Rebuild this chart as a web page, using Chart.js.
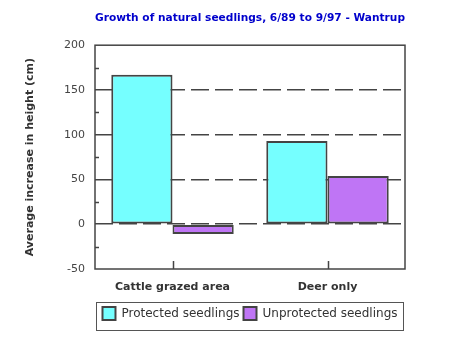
<!DOCTYPE html>
<html lang="en">
<head>
  <meta charset="UTF-8" />
  <title>Growth of natural seedlings</title>
  <script src="https://cdn.jsdelivr.net/npm/chart.js"></script>
  <style>
    body { margin: 0; background: #fff; }
    #wrap { width: 450px; height: 350px; }
  </style>
</head>
<body>
<div id="wrap"><canvas id="seedChart" width="450" height="350"></canvas></div>
<script>
  // data
  const areas = ['Cattle grazed area', 'Deer only'];
  const protectedVals = [167, 93];
  const unprotectedVals = [-11, 54];
  const seriesNames = ['Protected seedlings', 'Unprotected seedlings'];
  const yTicksShown = [-50, 0, 50, 100, 150, 200];

  const edge = '#444444';
  const txt = '#333333';
  const fontFam = '"DejaVu Sans", Verdana, sans-serif';

  // frame round the plot, inward tick marks, box round the legend
  const framePlugin = {
    id: 'frame',
    afterDatasetsDraw(chart) {
      const { ctx, chartArea: a, scales: { x, y } } = chart;
      ctx.save();
      ctx.strokeStyle = edge;
      ctx.lineWidth = 1.5;
      ctx.strokeRect(a.left, a.top, a.right - a.left, a.bottom - a.top);
      ctx.beginPath();
      // minor ticks on the value axis
      y.ticks.forEach(t => {
        if (t.value % 50 !== 0) {
          const py = Math.round(y.getPixelForValue(t.value)) + 0.5;
          ctx.moveTo(a.left, py);
          ctx.lineTo(a.left + 4, py);
        }
      });
      // category ticks pointing up from the bottom
      areas.forEach((c, i) => {
        const px = Math.round(x.getPixelForValue(i)) + 0.5;
        ctx.moveTo(px, a.bottom);
        ctx.lineTo(px, a.bottom - 8);
      });
      ctx.stroke();

      const lg = chart.legend;
      if (lg && lg.legendHitBoxes) {
        ctx.lineWidth = 1;
        ctx.strokeStyle = '#555';
        ctx.strokeRect(a.left + 1.5, lg.top - 0.5, a.right - a.left - 3, lg.bottom - lg.top + 1);
      }
      ctx.restore();
    }
  };

  const ctx = document.getElementById('seedChart').getContext('2d');
  new Chart(ctx, {
    type: 'bar',
    data: {
      labels: areas,
      datasets: [{
        label: seriesNames[0],
        data: protectedVals,
        backgroundColor: '#75ffff',
        borderColor: edge,
        borderWidth: 2,
        borderSkipped: false,
        categoryPercentage: 0.79,
        barPercentage: 1
      }, {
        label: seriesNames[1],
        data: unprotectedVals,
        backgroundColor: '#bf75f5',
        borderColor: edge,
        borderWidth: 2,
        borderSkipped: false,
        categoryPercentage: 0.79,
        barPercentage: 1
      }]
    },
    options: {
      responsive: false,
      animation: false,
      layout: { padding: { left: 0, right: 45, top: 0, bottom: 20 } },
      plugins: {
        title: {
          display: true,
          fullSize: false,
          text: 'Growth of natural seedlings, 6/89 to 9/97 - Wantrup',
          color: '#0000cc',
          font: { family: fontFam, size: 11, weight: 'bold' },
          padding: { top: 12, bottom: 20 }
        },
        legend: {
          position: 'bottom',
          fullSize: false,
          labels: {
            color: txt,
            font: { family: fontFam, size: 12 },
            boxWidth: 13,
            boxHeight: 13,
            padding: 4
          }
        },
        tooltip: { enabled: false }
      },
      scales: {
        x: {
          afterFit(scale) { scale.height = 34; },
          grid: { display: false, drawTicks: false },
          border: { display: false },
          ticks: {
            color: txt,
            padding: 12,
            font: { family: fontFam, size: 11, weight: 'bold' }
          }
        },
        y: {
          min: -50,
          max: 200,
          afterFit(scale) { scale.width = 95; },
          border: { display: false, dash: [18, 6] },
          grid: {
            drawTicks: false,
            lineWidth: 1.5,
            color: c => {
              const v = c.tick ? c.tick.value : null;
              return (v === 0 || v === 50 || v === 100 || v === 150) ? edge : 'rgba(0,0,0,0)';
            }
          },
          ticks: {
            stepSize: 25,
            color: edge,
            padding: 10,
            font: { family: fontFam, size: 11 },
            callback: v => yTicksShown.includes(v) ? v : ''
          },
          title: {
            display: true,
            text: 'Average increase in height (cm)',
            color: txt,
            font: { family: fontFam, size: 11, weight: 'bold' },
            padding: { top: 24, bottom: 0 }
          }
        }
      }
    },
    plugins: [framePlugin]
  });
</script>
</body>
</html>
